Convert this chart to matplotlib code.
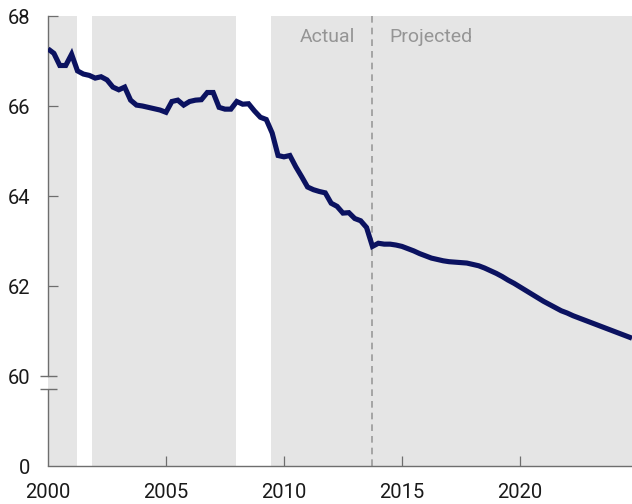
import numpy as np
import matplotlib
matplotlib.use("Agg")
import matplotlib.pyplot as plt
from matplotlib.scale import FuncScale

plt.rcParams['font.family'] = ['Liberation Sans Narrow', 'Roboto', 'DejaVu Sans']

# ---- data ----
actual_start = 2000.0
actual_values = [
    67.27, 67.17, 66.90, 66.90,   # 2000
    67.15, 66.78, 66.71, 66.68,   # 2001
    66.62, 66.65, 66.58, 66.42,   # 2002
    66.36, 66.42, 66.13, 66.02,   # 2003
    66.00, 65.97, 65.94, 65.91,   # 2004
    65.86, 66.10, 66.13, 66.02,   # 2005
    66.10, 66.13, 66.14, 66.30,   # 2006
    66.30, 65.97, 65.93, 65.93,   # 2007
    66.10, 66.04, 66.05, 65.89,   # 2008
    65.75, 65.70, 65.40, 64.90,   # 2009
    64.87, 64.90, 64.65, 64.43,   # 2010
    64.20, 64.14, 64.10, 64.07,   # 2011
    63.84, 63.77, 63.62, 63.63,   # 2012
    63.50, 63.45, 63.30, 62.88,   # 2013
]
projected_start = 2014.0
projected_values = [
    62.95, 62.93, 62.93, 62.91,   # 2014
    62.88, 62.83, 62.78, 62.72,   # 2015
    62.67, 62.62, 62.59, 62.56,   # 2016
    62.54, 62.53, 62.52, 62.51,   # 2017
    62.48, 62.45, 62.40, 62.34,   # 2018
    62.28, 62.21, 62.13, 62.06,   # 2019
    61.98, 61.90, 61.82, 61.74,   # 2020
    61.66, 61.59, 61.52, 61.45,   # 2021
    61.40, 61.34, 61.29, 61.24,   # 2022
    61.19, 61.14, 61.09, 61.04,   # 2023
    60.99, 60.94, 60.89, 60.84,   # 2024
]
recessions = [(2001.25, 2001.88), (2007.97, 2009.45)]
split_year = 2013.75
x_ticks = [2000, 2005, 2010, 2015, 2020]
y_ticks = [0, 60, 62, 64, 66, 68]
label_actual = "Actual"
label_projected = "Projected"

# ---- build series ----
years = np.concatenate([
    actual_start + np.arange(len(actual_values)) * 0.25,
    projected_start + np.arange(len(projected_values)) * 0.25,
])
values = np.array(actual_values + projected_values)

# broken axis scale: 0..60 compressed into the space of 2 units
def fwd(v):
    v = np.asarray(v, dtype=float)
    return np.where(v >= 60, v, 58 + v / 30.0)

def inv(d):
    d = np.asarray(d, dtype=float)
    return np.where(d >= 60, d, (d - 58) * 30.0)

W, H = 632, 504
fig = plt.figure(figsize=(W / 100, H / 100), dpi=100)
ax = fig.add_axes([48 / W, 38 / H, (W - 48) / W, (466 - 16) / H])
ax.set_yscale(FuncScale(ax.yaxis, (fwd, inv)))

GRAY_BG = '#e5e5e5'
SPINE = '#6e6e6e'
ax.set_facecolor(GRAY_BG)
for a, b in recessions:
    ax.axvspan(a, b, color='white', lw=0, zorder=0.5)

ax.axvline(split_year, color='#9a9a9a', lw=1.2, dashes=(4, 3), zorder=1)

ax.plot(years, values, color='#0b1260', lw=3.7, solid_joinstyle='miter',
        solid_capstyle='butt', zorder=3)

ax.set_xlim(2000, 2024.75)
ax.set_ylim(0, 68)
ax.set_xticks(x_ticks)
ax.set_xticklabels([str(t) for t in x_ticks])
ax.set_yticks(y_ticks)
ax.set_yticklabels([str(t) for t in y_ticks])
ax.yaxis.set_minor_locator(matplotlib.ticker.NullLocator())
ax.xaxis.set_minor_locator(matplotlib.ticker.NullLocator())

ax.tick_params(axis='both', direction='in', length=7.2, width=0.9,
               color=SPINE, labelsize=14.5, labelcolor='#1a1a1a')
ax.tick_params(axis='x', pad=12)
ax.tick_params(axis='y', pad=13)
for tick, val in zip(ax.yaxis.get_major_ticks(), y_ticks):
    if val in (0, 60):
        tick.tick1line.set_visible(False)
for tick, val in zip(ax.xaxis.get_major_ticks(), x_ticks):
    if val == 2000:
        tick.tick1line.set_visible(False)

for s in ['top', 'right']:
    ax.spines[s].set_visible(False)
ax.spines['bottom'].set_color(SPINE)
ax.spines['bottom'].set_linewidth(1.0)
ax.spines['left'].set_color(SPINE)
ax.spines['left'].set_linewidth(1.0)
ax.spines['left'].set_bounds(60, 68)

# lower part of the broken spine and break marks
ytr = ax.get_yaxis_transform()
brk_low = float(inv(59.71))
ax.plot([0, 0], [0, brk_low], transform=ytr, color=SPINE, lw=1.0,
        clip_on=False, zorder=4, solid_capstyle='butt')
aw = W - 48
for yv in (60, brk_low):
    ax.plot([-8 / aw, 9 / aw], [yv, yv], transform=ytr, color=SPINE, lw=1.0,
            clip_on=False, zorder=4, solid_capstyle='butt')

# Actual / Projected labels
xtr = ax.get_xaxis_transform()
ax.annotate(label_actual, xy=(split_year, 1), xycoords=xtr,
            xytext=(-12.5, -18.7), textcoords='offset points',
            ha='right', va='baseline', fontsize=14, color='#959595')
ax.annotate(label_projected, xy=(split_year, 1), xycoords=xtr,
            xytext=(12.5, -18.7), textcoords='offset points',
            ha='left', va='baseline', fontsize=14, color='#959595')

fig.savefig('out.png', dpi=100)
